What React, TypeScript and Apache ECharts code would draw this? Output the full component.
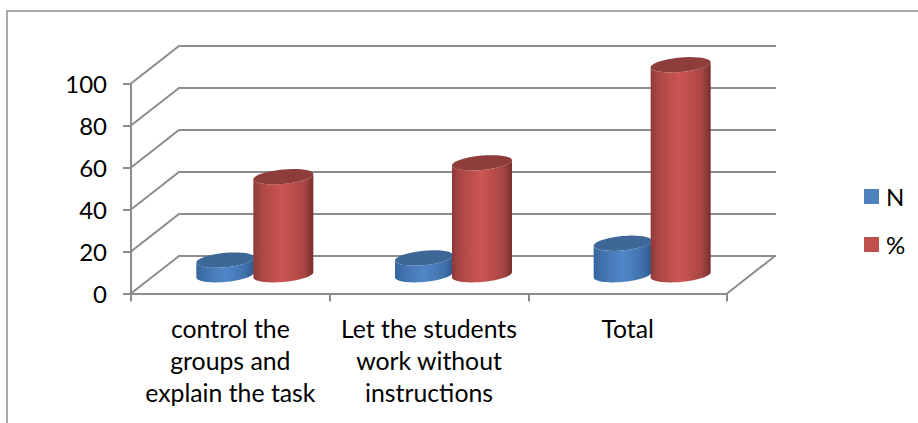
import React, { useEffect, useRef } from "react";
import * as echarts from "echarts";

const categories = ["control the\ngroups and\nexplain the task", "Let the students\nwork without\ninstructions", "Total"];
const nValues = [7, 8, 15];
const pctValues = [46.7, 53.3, 100];
const yTicks = [0, 20, 40, 60, 80, 100];

const FONT = "Lato";
const GREY = "#8c8c8c";
const DEPTH_X = 48;
const DEPTH_Y = -37.5;

const hGrad = (stops: [number, string][]) => ({
  type: "linear", x: 0, y: 0, x2: 1, y2: 0,
  colorStops: stops.map(([offset, color]) => ({ offset, color })),
});

function ring(cx: number, cy: number, rx: number, ry: number, tilt: number, from: number, to: number) {
  const pts: number[][] = [];
  const n = 40;
  for (let i = 0; i <= n; i++) {
    const t = from + ((to - from) * i) / n;
    pts.push([cx + rx * Math.cos(t), cy + ry * Math.sin(t) - tilt * Math.cos(t)]);
  }
  return pts;
}

function cylinderSeries(name: string, values: number[], off: number, rx: number, legendColor: string, body: [number, string][], top: string) {
  return {
    type: "custom",
    name,
    silent: true,
    clip: false,
    itemStyle: { color: legendColor },
    data: values.map((v, i) => [i, v]),
    encode: { x: 0, y: 1 },
    renderItem: (_: any, api: any) => {
      const i = api.value(0);
      const base = api.coord([i, 0]);
      const head = api.coord([i, api.value(1)]);
      const cx = base[0] + DEPTH_X / 2 + off;
      const by = base[1] + DEPTH_Y / 2;
      const ty = head[1] + DEPTH_Y / 2;
      const ry = 7.2;
      const tilt = 2.6;
      const lower = ring(cx, by, rx, ry, tilt, Math.PI, 0);
      const upper = ring(cx, ty, rx, ry, tilt, 0, Math.PI);
      return {
        type: "group",
        children: [
          { type: "polygon", shape: { points: [...lower, ...upper] }, style: { fill: hGrad(body) } },
          { type: "polygon", shape: { points: ring(cx, ty, rx, ry, tilt, 0, Math.PI * 2) }, style: { fill: top } },
        ],
      };
    },
  };
}

const wallSeries = {
  type: "custom",
  name: "wall",
  silent: true,
  clip: false,
  data: yTicks.map((v) => [0, v]),
  encode: { x: 0, y: 1 },
  renderItem: (params: any, api: any) => {
    const sys = params.coordSys;
    const y = api.coord([0, api.value(1)])[1];
    const children: any[] = [
      {
        type: "polyline",
        shape: { points: [[sys.x, y], [sys.x + DEPTH_X, y + DEPTH_Y], [sys.x + sys.width + DEPTH_X + 1, y + DEPTH_Y]] },
        style: { stroke: GREY, lineWidth: 2, fill: "none" },
      },
    ];
    if (api.value(1) === 0) {
      children.push({
        type: "polyline",
        shape: { points: [[sys.x + sys.width, y], [sys.x + sys.width + DEPTH_X, y + DEPTH_Y]] },
        style: { stroke: GREY, lineWidth: 2, fill: "none" },
      });
    }
    return { type: "group", children };
  },
};

export default function App() {
  const ref = useRef<HTMLDivElement>(null);
  useEffect(() => {
    const chart = echarts.init(ref.current!, undefined, { renderer: "svg" });
    chart.setOption({
      animation: false,
      backgroundColor: "#ffffff",
      textStyle: { fontFamily: FONT },
      grid: { left: 131, right: 191, top: 83.5, bottom: 129.5 },
      graphic: [
        {
          type: "polyline",
          shape: { points: [[7, 423], [7, 11], [918, 11]] },
          style: { stroke: GREY, lineWidth: 1.5, fill: "none" },
        },
      ],
      legend: {
        show: true,
        orient: "vertical",
        left: 864,
        top: 184,
        padding: 0,
        itemWidth: 15,
        itemHeight: 15,
        itemGap: 23,
        icon: "rect",
        data: ["N", "%"],
        textStyle: { fontFamily: FONT, fontSize: 24, lineHeight: 22, color: "#000", padding: [0, 0, 3, 2] },
      },
      xAxis: {
        type: "category",
        data: categories,
        axisLine: { show: true, lineStyle: { color: GREY, width: 2 } },
        axisTick: { show: true, length: 8, alignWithLabel: false, lineStyle: { color: GREY, width: 2 } },
        axisLabel: { interval: 0, margin: 19, color: "#000", fontFamily: FONT, fontSize: 24.8, lineHeight: 32 },
      },
      yAxis: {
        type: "value",
        min: 0,
        max: 100,
        interval: 20,
        splitLine: { show: false },
        axisLine: { show: true, lineStyle: { color: GREY, width: 2 } },
        axisTick: { show: true, length: 8, lineStyle: { color: GREY, width: 2 } },
        axisLabel: { margin: 24, color: "#000", fontFamily: FONT, fontSize: 24, padding: [2, 0, 0, 0] },
      },
      series: [
        wallSeries,
        cylinderSeries("N", nValues, -29, 29, "#4f81bd", [[0, "#34659b"], [0.12, "#3f70aa"], [0.5, "#5187c9"], [0.85, "#3f70aa"], [1, "#2f5a8c"]], "#3c6796"),
        cylinderSeries("%", pctValues, 29, 30, "#c0504d", [[0, "#8e3a38"], [0.12, "#a84643"], [0.48, "#cd5653"], [0.85, "#a84643"], [1, "#772f2d"]], "#8f3d3b"),
      ],
    });
    return () => chart.dispose();
  }, []);
  return <div ref={ref} style={{ position: "absolute", left: 0, top: 0, width: 918, height: 423, overflow: "hidden" }} />;
}
